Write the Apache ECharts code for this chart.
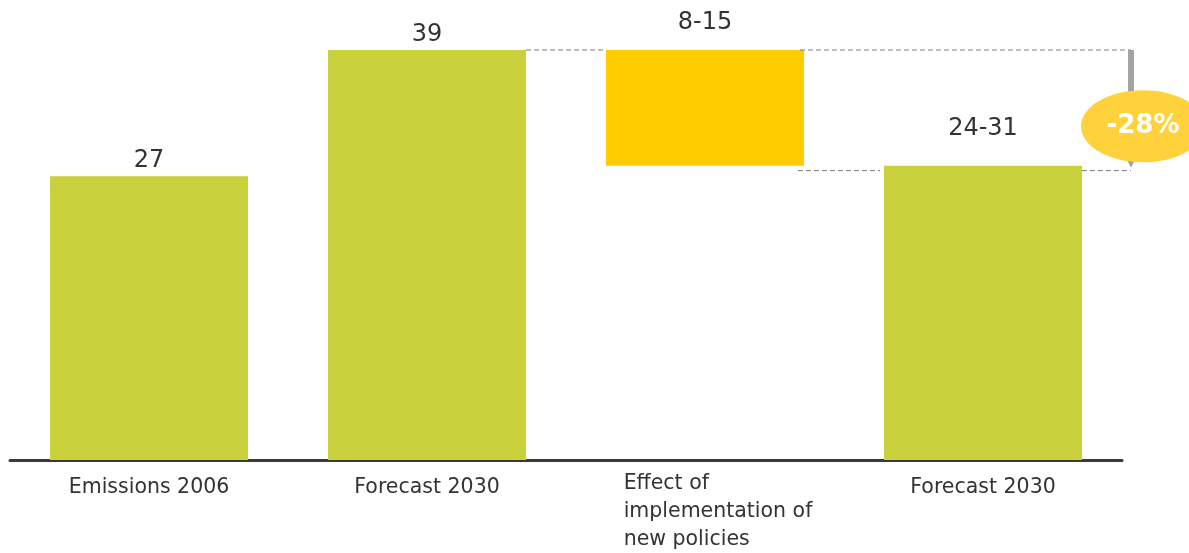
<!DOCTYPE html>
<html>
<head>
<meta charset="utf-8">
<title>Emissions forecast 2030</title>
<script src="https://cdn.jsdelivr.net/npm/echarts@6/dist/echarts.min.js"></script>
<style>
  html, body { margin: 0; padding: 0; background: #ffffff; }
  #chart { width: 1189px; height: 553px; }
</style>
</head>
<body>
<div id="chart"></div>
<script>
// Categories along the x axis
const categories = [
  'Emissions 2006',
  'Forecast 2030',
  'Effect of\nimplementation of\nnew policies',
  'Forecast 2030'
];

// Central estimates (Mt CO2e)
const emissions2006 = 27;
const forecast2030 = 39;
const forecastWithPolicies = 28;

// Stated values and ranges shown above the bars
const valueLabels = ['27', '39', '8-15', '24-31'];
const changeLabel = '-28%';

// Waterfall: invisible base + visible part
const policyEffect = forecast2030 - forecastWithPolicies;
const baseValues = [0, 0, forecastWithPolicies, 0];
const barValues = [emissions2006, forecast2030, policyEffect, forecastWithPolicies];

const GREEN = '#C8D03B';
const YELLOW = '#FFCC00';
const TEXT = '#333333';
const labelGap = [3, 3, 15, 25];

const chart = echarts.init(document.getElementById('chart'), null, { renderer: 'canvas' });

const option = {
  animation: false,
  grid: { left: 10, right: 67, top: 50, bottom: 93 },
  xAxis: {
    type: 'category',
    data: categories,
    axisTick: { show: false },
    axisLine: { lineStyle: { color: '#3a3a3a', width: 3 } },
    axisLabel: {
      interval: 0,
      margin: 10,
      formatter: function (v) {
        const lines = v.split('\n');
        const style = lines.length > 1 ? 'm' : 's';
        return lines.map(function (l) { return '{' + style + '|' + l + '}'; }).join('\n');
      },
      rich: {
        s: { fontFamily: 'DejaVu Sans', fontSize: 20.5, color: TEXT, lineHeight: 28, padding: [8, 0, 0, 0] },
        m: { fontFamily: 'DejaVu Sans', fontSize: 20.5, color: TEXT, lineHeight: 28, align: 'left', padding: [0, 0, 0, 26] }
      }
    }
  },
  yAxis: {
    type: 'value',
    min: 0,
    max: forecast2030,
    show: false,
    splitLine: { show: false }
  },
  series: [
    {
      type: 'bar',
      stack: 'total',
      barWidth: 198,
      silent: true,
      itemStyle: { color: 'transparent' },
      data: baseValues
    },
    {
      type: 'bar',
      stack: 'total',
      barWidth: 198,
      data: barValues.map(function (v, i) {
        return {
          value: v,
          itemStyle: { color: i === 2 ? YELLOW : GREEN },
          label: { distance: labelGap[i] }
        };
      }),
      label: {
        show: true,
        position: 'top',
        fontFamily: 'DejaVu Sans',
        fontSize: 24,
        color: TEXT,
        formatter: function (p) { return valueLabels[p.dataIndex]; }
      }
    }
  ]
};

chart.setOption(option);

// Connector lines, change arrow and percentage badge
const yTop = chart.convertToPixel({ yAxisIndex: 0 }, forecast2030);
const yLow = chart.convertToPixel({ yAxisIndex: 0 }, forecastWithPolicies) + 5;
const cx = categories.map(function (c, i) { return chart.convertToPixel({ xAxisIndex: 0 }, i); });
const half = 99;
const arrowX = cx[3] + half + 49;
const dash = { stroke: '#7a7a7a', lineWidth: 1, lineDash: [5, 3] };

chart.setOption({
  graphic: [
    { type: 'line', shape: { x1: cx[1] + half, y1: yTop, x2: cx[2] - half, y2: yTop }, style: dash, z: 5 },
    { type: 'line', shape: { x1: cx[2] + half - 4, y1: yTop, x2: arrowX, y2: yTop }, style: dash, z: 5 },
    { type: 'line', shape: { x1: cx[2] + half - 6, y1: yLow, x2: cx[3] - half - 4, y2: yLow }, style: dash, z: 5 },
    { type: 'line', shape: { x1: cx[3] + half, y1: yLow, x2: arrowX, y2: yLow }, style: dash, z: 5 },
    { type: 'rect', shape: { x: arrowX - 3, y: yTop, width: 6, height: yLow - yTop - 10 }, style: { fill: '#a3a3a3' }, z: 6 },
    { type: 'polygon', shape: { points: [[arrowX - 4, yLow - 11], [arrowX + 4, yLow - 11], [arrowX, yLow - 3]] }, style: { fill: '#a3a3a3' }, z: 6 },
    { type: 'ellipse', shape: { cx: arrowX + 12, cy: (yTop + yLow) / 2 + 16, rx: 62, ry: 36 }, style: { fill: '#FFD23C' }, z: 7 },
    {
      type: 'text',
      x: arrowX + 12,
      y: (yTop + yLow) / 2 + 16,
      style: {
        text: changeLabel,
        fill: '#ffffff',
        font: 'bold 26px "DejaVu Sans"',
        align: 'center',
        verticalAlign: 'middle'
      },
      z: 8
    }
  ]
});
</script>
</body>
</html>
